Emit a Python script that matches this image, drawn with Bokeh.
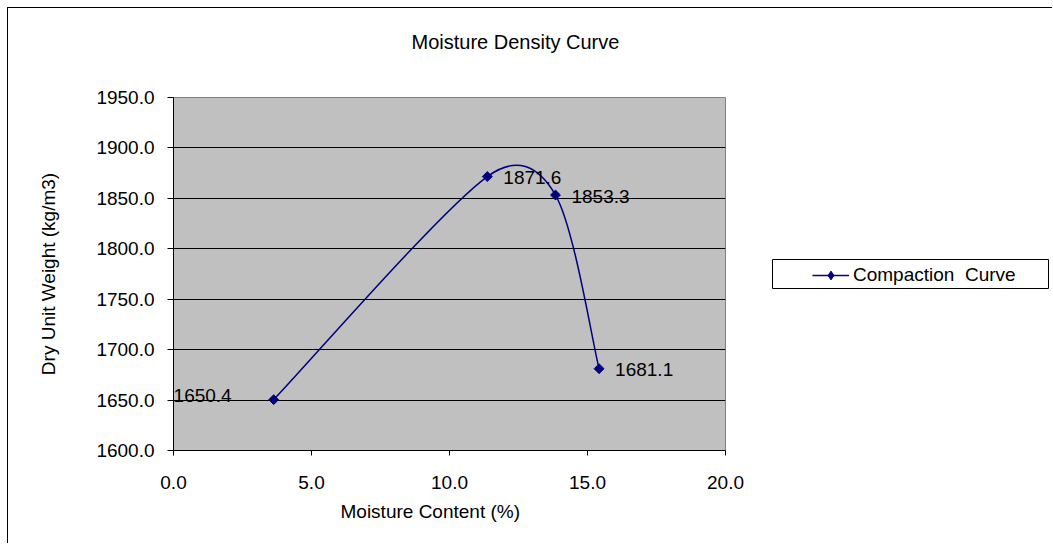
import numpy as np
from bokeh.plotting import figure
from bokeh.models import (ColumnDataSource, FixedTicker, NumeralTickFormatter,
                          Legend, LegendItem, Range1d, Title, Label)
from bokeh.core.properties import value
from bokeh.embed import file_html
from bokeh.resources import INLINE

# ---- data ----
moisture = [3.63, 11.37, 13.84, 15.42]
density = [1650.4, 1871.6, 1853.3, 1681.1]
point_labels = ["1650.4", "1871.6", "1853.3", "1681.1"]
series_name = "Compaction  Curve"
title_text = "Moisture Density Curve"
x_label = "Moisture Content (%)"
y_label = "Dry Unit Weight (kg/m3)"
x_ticks = [0, 5, 10, 15, 20]
y_ticks = [1600, 1650, 1700, 1750, 1800, 1850, 1900, 1950]

FONT = "Liberation Sans"
FS = "19px"
NAVY = "#000080"
X0, X1 = 0, 20
Y0, Y1 = 1600, 1950
FRAME_W, FRAME_H = 552, 353

p = figure(width=1045, height=536,
           x_range=Range1d(X0, X1), y_range=Range1d(Y0, Y1),
           output_backend="svg", toolbar_location=None,
           min_border_left=165, min_border_right=328,
           min_border_top=89, min_border_bottom=94,
           background_fill_color="#C0C0C0", border_fill_color="white",
           outline_line_color="#808080", outline_line_width=1)
p.styles = {"margin-left": "7px", "margin-top": "7px",
            "border-left": "1px solid #000", "border-top": "1px solid #000"}

# axes
for ax in (p.xaxis[0], p.yaxis[0]):
    ax.formatter = NumeralTickFormatter(format="0.0")
    ax.major_label_text_font = FONT
    ax.major_label_text_font_size = FS
    ax.major_label_text_color = "black"
    ax.axis_label_text_font = FONT
    ax.axis_label_text_font_size = FS
    ax.axis_label_text_font_style = "normal"
    ax.axis_label_text_color = "black"
    ax.axis_line_color = "black"
    ax.major_tick_line_color = "black"
    ax.major_tick_in = 0
    ax.minor_tick_line_color = None

p.xaxis.ticker = FixedTicker(ticks=x_ticks)
p.yaxis.ticker = FixedTicker(ticks=y_ticks)
p.xaxis.major_tick_out = 5
p.yaxis.major_tick_out = 6
p.xaxis.major_label_standoff = 20
p.yaxis.major_label_standoff = 13
p.yaxis.axis_label = y_label
p.yaxis.axis_label_standoff = 34

xlab = Title(text=x_label, align="left", offset=167, standoff=14,
             text_font=FONT, text_font_size=FS, text_font_style="normal",
             text_color="black")
p.add_layout(xlab, "below")

p.xgrid.grid_line_color = None
p.ygrid.grid_line_color = "black"
p.ygrid.grid_line_width = 1
p.ygrid.ticker = FixedTicker(ticks=y_ticks)

# smoothed line: Catmull-Rom style bezier handles (1/6), each limited to
# half of its segment length (Excel-like smoothing)
sx = FRAME_W / (X1 - X0)
sy = FRAME_H / (Y1 - Y0)
pts = np.column_stack([np.array(moisture) * sx, np.array(density) * sy])
n = len(pts)
segs = {k: [] for k in ("x0", "y0", "x1", "y1", "cx0", "cy0", "cx1", "cy1")}
for i in range(n - 1):
    a, b = pts[i], pts[i + 1]
    prv = pts[max(i - 1, 0)]
    nxt = pts[min(i + 2, n - 1)]
    half = np.linalg.norm(b - a) / 2
    h0 = (b - prv) / 6
    h1 = (nxt - a) / 6
    if np.linalg.norm(h0) > half:
        h0 = h0 * half / np.linalg.norm(h0)
    if np.linalg.norm(h1) > half:
        h1 = h1 * half / np.linalg.norm(h1)
    c0 = a + h0
    c1 = b - h1
    segs["x0"].append(a[0] / sx); segs["y0"].append(a[1] / sy)
    segs["x1"].append(b[0] / sx); segs["y1"].append(b[1] / sy)
    segs["cx0"].append(c0[0] / sx); segs["cy0"].append(c0[1] / sy)
    segs["cx1"].append(c1[0] / sx); segs["cy1"].append(c1[1] / sy)
bz = ColumnDataSource(segs)
p.bezier(x0="x0", y0="y0", x1="x1", y1="y1", cx0="cx0", cy0="cy0",
         cx1="cx1", cy1="cy1", source=bz, line_color=NAVY, line_width=1.5)

src = ColumnDataSource(dict(x=moisture, y=density, lab=point_labels,
                            xoff=[-42, 16, 16, 16],
                            align=["right", "left", "left", "left"],
                            yoff=[-4, 1, 1, 1]))
sc = p.scatter("x", "y", source=src, marker="square", angle=np.pi / 4,
               size=7, fill_color=NAVY, line_color=NAVY)
p.text("x", "y", text="lab", source=src, x_offset="xoff", y_offset="yoff",
       text_align="align", text_baseline="middle",
       text_font=value(FONT), text_font_size=FS, text_color="black")

# ---- chart title: a small transparent figure placed above the plot ----
tf = figure(width=240, height=30, x_range=Range1d(0, 1), y_range=Range1d(0, 1),
            x_axis_type=None, y_axis_type=None, sizing_mode="fixed",
            output_backend="svg", toolbar_location=None, min_border=0,
            background_fill_alpha=0, border_fill_alpha=0,
            outline_line_color=None)
tf.xgrid.visible = False
tf.ygrid.visible = False
tf.add_layout(Label(x=0, y=0.5, text=title_text, text_align="left",
                    text_baseline="middle", text_font=FONT,
                    text_font_size="20px", text_color="black"))
tf.styles = {"position": "absolute", "left": "411px", "top": "26px"}

# ---- legend: a small boxed figure placed over the right side ----
lg = figure(width=277, height=30, x_range=Range1d(0, 1), y_range=Range1d(0, 1),
            x_axis_type=None, y_axis_type=None, sizing_mode="fixed",
            output_backend="svg", toolbar_location=None, min_border=0,
            background_fill_color="white", border_fill_color="white",
            outline_line_color="black", outline_line_width=1)
lg.xgrid.visible = False
lg.ygrid.visible = False
# series glyphs in the legend figure (outside its range, so only the legend shows them)
lg_line = lg.line(moisture, density, line_color=NAVY, line_width=1.5)
lg_mark = lg.scatter(moisture, density, marker="diamond", size=11,
                     fill_color=NAVY, line_color=NAVY)
legend = Legend(items=[LegendItem(label=series_name,
                                  renderers=[lg_line, lg_mark])],
                location=(40, 3), orientation="vertical",
                padding=4, margin=0, spacing=0,
                glyph_width=37, glyph_height=22, label_height=22,
                label_standoff=4,
                label_text_font=FONT, label_text_font_size=FS,
                label_text_color="black",
                border_line_color=None, background_fill_alpha=0)
lg.add_layout(legend, "center")
lg.styles = {"position": "absolute", "left": "772px", "top": "259px"}

open("out.html", "w").write(file_html([p, tf, lg], INLINE))
